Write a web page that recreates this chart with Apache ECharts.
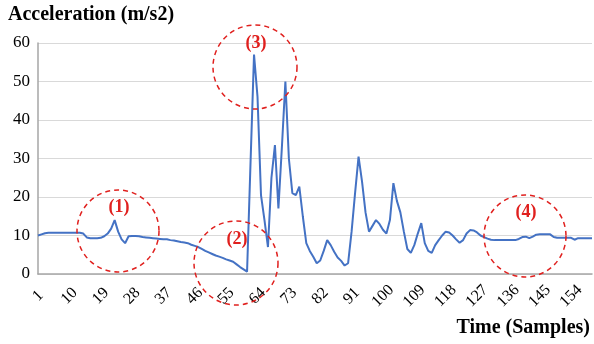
<!DOCTYPE html>
<html>
<head>
<meta charset="utf-8">
<script src="https://cdn.jsdelivr.net/npm/echarts@6/dist/echarts.min.js"></script>
<style>
    html, body {margin: 0; padding: 0; background: #fff;}
    #chart {width: 594px; height: 344px;}
</style>
</head>
<body>
<div id="chart"></div>
<script>
// acceleration per sample
var accel = [
    10, 10.3, 10.6, 10.7, 10.7, 10.7, 10.7, 10.7, 10.7, 10.7,
    10.7, 10.7, 10.7, 10.5, 9.5, 9.3, 9.3, 9.3, 9.4, 9.8,
    10.5, 11.8, 14, 11, 9, 8, 9.8, 9.9, 9.9, 9.8,
    9.6, 9.5, 9.4, 9.3, 9.2, 9.1, 9.0, 9.0, 8.8, 8.7,
    8.5, 8.3, 8.2, 8.0, 7.6, 7.3, 7.0, 6.5, 6.0, 5.6,
    5.2, 4.8, 4.5, 4.2, 3.8, 3.5, 3.2, 2.5, 1.8, 1.2,
    0.6, 29, 57, 46, 20.5, 14, 7, 25, 33.5, 17,
    33, 50, 30, 21, 20.5, 22.7, 15, 8, 6, 4.5,
    2.8, 3.5, 6, 8.8, 7.5, 5.8, 4.3, 3.4, 2.2, 2.8,
    11, 21, 30.5, 24, 16, 11, 12.5, 14, 13, 11.5,
    10.5, 14, 23.6, 19, 16, 11, 6.5, 5.5, 7.5, 10.5,
    13.2, 8, 6, 5.5, 7.5, 8.8, 10, 11, 10.8, 10,
    9, 8.1, 8.8, 10.5, 11.4, 11.3, 10.8, 10, 9.6, 9.2,
    8.9, 8.8, 8.8, 8.8, 8.8, 8.8, 8.8, 8.8, 9.1, 9.6,
    9.7, 9.3, 9.7, 10.2, 10.3, 10.3, 10.3, 10.3, 9.6, 9.4,
    9.4, 9.4, 9.4, 9.4, 8.9, 9.3, 9.3, 9.3, 9.3, 9.3
];
var samples = [];
for (var i = 0; i < accel.length; i++) {
    samples.push(String(i + 1));
}
var yTicks = [0, 10, 20, 30, 40, 50, 60];

var serif = "'Liberation Serif', 'Times New Roman', serif";
var red = '#e0201e';

// dashed circles marking the four regions
var marks = [
    {name: '(1)', cx: 118, cy: 231, r: 41},
    {name: '(2)', cx: 236, cy: 263, r: 42},
    {name: '(3)', cx: 255, cy: 67, r: 42},
    {name: '(4)', cx: 525, cy: 236, r: 41}
];

var myChart = echarts.init(document.getElementById('chart'), null, {renderer: 'canvas'});

var graphics = [
    {
        type: 'text', left: 8, top: 5,
        style: {text: 'Acceleration (m/s2)', font: "bold 20px " + serif, fill: '#000'}
    },
    {
        type: 'text', right: 4, top: 318,
        style: {text: 'Time (Samples)', font: "bold 20px " + serif, fill: '#000'}
    }
];
marks.forEach(function (m) {
    graphics.push({
        type: 'circle', z: 10,
        shape: {cx: m.cx, cy: m.cy, r: m.r},
        style: {fill: null, stroke: red, lineWidth: 1.5, lineDash: [5, 4]}
    });
    graphics.push({
        type: 'text', z: 10,
        x: m.cx + 1, y: m.cy - 24,
        style: {text: m.name, font: "bold 18px " + serif, fill: red, align: 'center', verticalAlign: 'middle'}
    });
});

var option = {
    animation: false,
    grid: {left: 38, right: 2, top: 43, bottom: 70},
    xAxis: {
        type: 'category',
        data: samples,
        boundaryGap: false,
        axisLine: {lineStyle: {color: '#a6a6a6', width: 1.5}},
        axisTick: {show: false},
        axisLabel: {
            interval: 8,
            rotate: 45,
            align: 'center',
            verticalAlign: 'middle',
            color: '#000',
            fontFamily: serif,
            fontSize: 16,
            margin: 22
        },
        splitLine: {show: false}
    },
    yAxis: {
        type: 'value',
        min: yTicks[0],
        max: yTicks[yTicks.length - 1],
        interval: 10,
        axisLine: {show: true, lineStyle: {color: '#a6a6a6', width: 1.5}},
        axisTick: {show: false},
        axisLabel: {color: '#000', fontFamily: serif, fontSize: 17, margin: 8},
        splitLine: {lineStyle: {color: '#d9d9d9', width: 1.2}}
    },
    series: [
        {
            type: 'line',
            data: accel,
            showSymbol: false,
            lineStyle: {color: '#4472c4', width: 2},
            itemStyle: {color: '#4472c4'}
        }
    ],
    graphic: graphics
};

myChart.setOption(option);
</script>
</body>
</html>
